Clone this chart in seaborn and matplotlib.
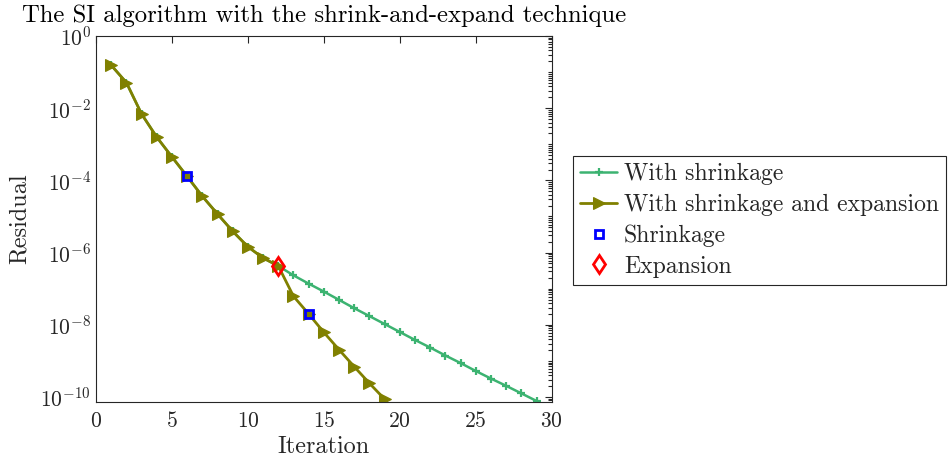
import matplotlib
matplotlib.use("Agg")
import matplotlib.pyplot as plt
import matplotlib.ticker as mticker
import seaborn as sns
import numpy as np

# ---- data ----
iters_expand = list(range(1, 20))
resid_expand = [1.55e-1, 5.13e-2, 6.92e-3, 1.58e-3, 4.47e-4, 1.29e-4, 3.63e-5,
                1.17e-5, 3.89e-6, 1.45e-6, 7.08e-7, 4.27e-7, 6.17e-8, 2.00e-8,
                6.17e-9, 2.04e-9, 6.92e-10, 2.40e-10, 8.71e-11]

iters_shrink = list(range(1, 30))
resid_shrink = [1.55e-1, 5.13e-2, 6.92e-3, 1.58e-3, 4.47e-4, 1.29e-4, 3.63e-5,
                1.17e-5, 3.89e-6, 1.45e-6, 7.08e-7, 4.27e-7, 2.34e-7, 1.38e-7,
                8.32e-8, 4.90e-8, 2.88e-8, 1.74e-8, 1.05e-8, 6.31e-9, 3.80e-9,
                2.34e-9, 1.41e-9, 8.71e-10, 5.25e-10, 3.24e-10, 2.04e-10,
                1.26e-10, 7.76e-11]

shrink_iters = [6, 14]
shrink_vals = [1.29e-4, 2.00e-8]
expand_iters = [12]
expand_vals = [4.27e-7]

title = "The SI algorithm with the shrink-and-expand technique"
labels = ["With shrinkage", "With shrinkage and expansion", "Shrinkage", "Expansion"]

# ---- style ----
sns.set_style("white")
plt.rcParams["font.family"] = ["cmr10", "DejaVu Serif"]
plt.rcParams["mathtext.fontset"] = "cm"
plt.rcParams["axes.formatter.use_mathtext"] = True
plt.rcParams["axes.unicode_minus"] = True

dark = "#262626"
green = "#3cb371"
olive = "#808000"

fig = plt.figure(figsize=(9.52, 4.59), dpi=100)
ax = fig.add_axes([96 / 952, 1 - 401.5 / 459, (551.7 - 96) / 952, (401.5 - 36) / 459])

sns.lineplot(x=iters_shrink, y=resid_shrink, ax=ax, color=green, linewidth=1.8,
             marker="+", markersize=6, markeredgewidth=1.6, markeredgecolor=green,
             label=labels[0], estimator=None, sort=False, dashes=False)
sns.lineplot(x=iters_expand, y=resid_expand, ax=ax, color=olive, linewidth=2.0,
             marker=">", markersize=8.5, markeredgecolor=olive, markerfacecolor=olive,
             label=labels[1], estimator=None, sort=False, dashes=False)
ax.plot(shrink_iters, shrink_vals, linestyle="none", marker="s", markersize=6.2,
        markerfacecolor="none", markeredgecolor="#0000ff", markeredgewidth=2.0,
        label=labels[2])
ax.plot(expand_iters, expand_vals, linestyle="none", marker="d", markersize=9.5,
        markerfacecolor="none", markeredgecolor="#ff0000", markeredgewidth=2.0,
        label=labels[3])
for ln in ax.get_lines():
    ln.set_linestyle(ln.get_linestyle() if ln.get_linestyle() == "None" else "-")

ax.set_yscale("log")
ax.set_xlim(0, 30)
ax.set_ylim(7.5e-11, 1)
ax.set_xticks([0, 5, 10, 15, 20, 25, 30])
ax.yaxis.set_major_locator(mticker.FixedLocator([1e0, 1e-2, 1e-4, 1e-6, 1e-8, 1e-10]))
ax.yaxis.set_major_formatter(mticker.LogFormatterSciNotation())
minors = [m * 10.0 ** e for e in range(-11, 1) for m in range(1, 10)]
minors = [v for v in minors if v not in (1e0, 1e-2, 1e-4, 1e-6, 1e-8, 1e-10)]
ax.yaxis.set_minor_locator(mticker.FixedLocator(minors))
ax.yaxis.set_minor_formatter(mticker.NullFormatter())

ax.tick_params(which="both", direction="in", top=True, right=True, colors=dark,
               labelsize=15.5, width=0.8)
ax.tick_params(which="major", length=5)
ax.tick_params(which="minor", length=3)
ax.tick_params(axis="x", which="minor", bottom=False, top=False)
ax.tick_params(axis="x", pad=7)
for s in ax.spines.values():
    s.set_color(dark)
    s.set_linewidth(0.8)
    s.set_visible(True)

ax.set_xlabel("Iteration", fontsize=17.5, color=dark, labelpad=3)
ax.set_ylabel("Residual", fontsize=17.5, color=dark, labelpad=7)
ax.set_title(title, fontsize=17.8, color="black", pad=10)

leg = ax.legend(loc="upper left", bbox_to_anchor=(573 / 952, 1 - 156 / 459),
                bbox_transform=fig.transFigure, borderaxespad=0, fontsize=17.1,
                frameon=True, fancybox=False, framealpha=1, edgecolor=dark,
                handlelength=1.55, handletextpad=0.3, labelspacing=0.36,
                borderpad=0.3)
leg.get_frame().set_linewidth(0.8)

fig.savefig("out.png", dpi=100)
